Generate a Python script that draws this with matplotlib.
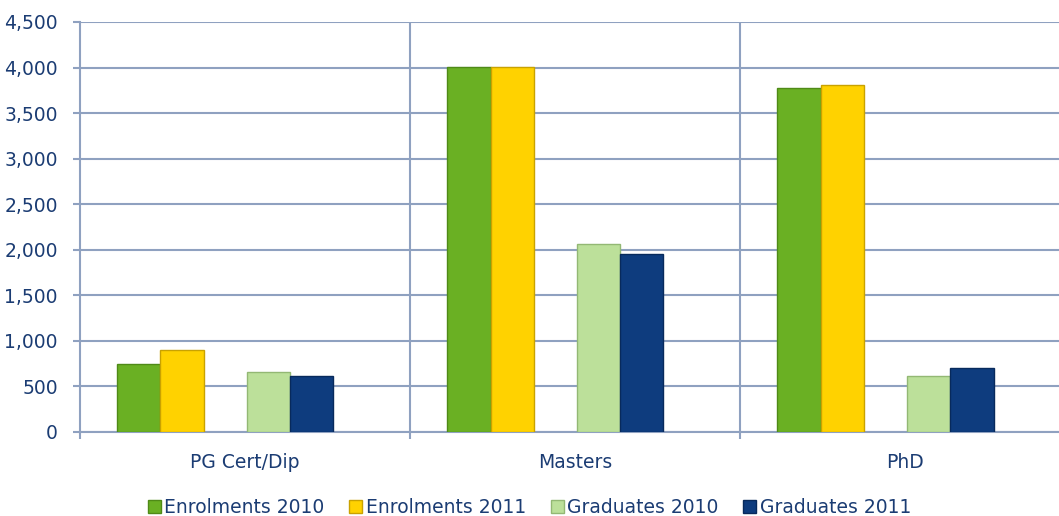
import matplotlib

matplotlib.use("Agg")
import matplotlib.pyplot as plt
import numpy as np
from matplotlib.ticker import FuncFormatter

categories = ["PG Cert/Dip", "Masters", "PhD"]
series = ["Enrolments 2010", "Enrolments 2011", "Graduates 2010", "Graduates 2011"]
enrol_2010 = [745, 4010, 3780]
enrol_2011 = [900, 4010, 3810]
grad_2010 = [655, 2060, 610]
grad_2011 = [610, 1950, 700]

COLORS = ["#6AB023", "#FFD200", "#BCE09A", "#0E3C7E"]
EDGES = ["#4F8A17", "#C9A200", "#93B874", "#082A5C"]
TEXT = "#1B3C73"
GRID = "#8FA1C0"

# six slots per category; slots 2 and 5 are empty spacers
slots = [0, 1, 3, 4]
n_slots = 6
slot_w = 0.131

plt.rcParams["font.family"] = ["DejaVu Sans"]
fig = plt.figure(figsize=(10.59, 5.16), dpi=100)
# plot area runs a little past the right edge of the image, like the original
ax = fig.add_axes([0.0755, 0.1628, 0.935, 0.7946])

x = np.arange(len(categories))
start = 0.5 - n_slots * slot_w / 2 + 0.006
for vals, slot, col, ec, lab in zip([enrol_2010, enrol_2011, grad_2010, grad_2011],
                                    slots, COLORS, EDGES, series):
    pos = x + start + (slot + 0.5) * slot_w
    ax.bar(pos, vals, width=slot_w, color=col, edgecolor=ec, linewidth=1.0,
           label=lab, zorder=3)

ax.set_xlim(0, len(categories))
ax.set_ylim(0, 4500)
ax.set_yticks(np.arange(0, 4501, 500))
ax.yaxis.set_major_formatter(FuncFormatter(lambda v, _: f"{int(v):,}"))
ax.grid(axis="y", color=GRID, lw=1.5, zorder=0)
for b in range(1, len(categories)):
    ax.axvline(b, color=GRID, lw=1.5, zorder=0)

ax.set_xticks(x + 0.5)
ax.set_xticklabels(categories)
ax.set_xticks(np.arange(0, len(categories) + 1), minor=True)
ax.tick_params(axis="x", which="major", length=0, pad=15, labelsize=13.5, labelcolor=TEXT)
ax.tick_params(axis="x", which="minor", length=5, width=1.5, color=GRID)
ax.tick_params(axis="y", length=5, width=1.5, color=GRID, pad=11,
               labelsize=13.5, labelcolor=TEXT)

for s in ("top", "right"):
    ax.spines[s].set_visible(False)
for s in ("left", "bottom"):
    ax.spines[s].set_color(GRID)
    ax.spines[s].set_linewidth(1.5)

fig.legend(loc="lower center", bbox_to_anchor=(0.5, -0.035), ncol=4, frameon=False,
           fontsize=13.5, labelcolor=TEXT, handlelength=0.7, handleheight=0.7,
           handletextpad=0.2, columnspacing=1.3)

fig.savefig("out.png", dpi=100)
